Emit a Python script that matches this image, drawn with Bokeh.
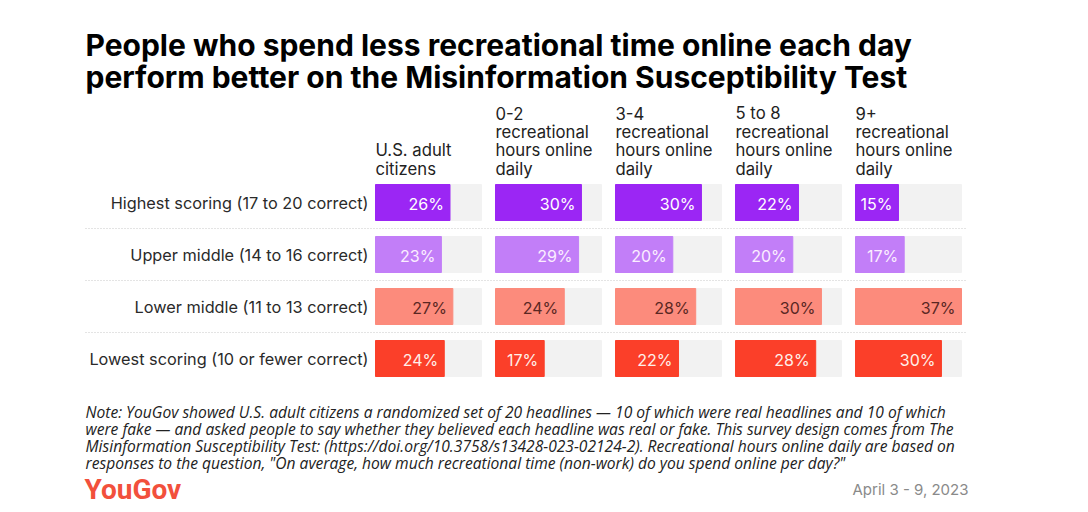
from bokeh.plotting import figure
from bokeh.models import Range1d, ColumnDataSource
from bokeh.embed import file_html
from bokeh.resources import INLINE
from bokeh.core.properties import value

# ---- data ----
rows = ["Highest scoring (17 to 20 correct)",
        "Upper middle (14 to 16 correct)",
        "Lower middle (11 to 13 correct)",
        "Lowest scoring (10 or fewer correct)"]
columns = ["U.S. adult\ncitizens",
           "0-2\nrecreational\nhours online\ndaily",
           "3-4\nrecreational\nhours online\ndaily",
           "5 to 8\nrecreational\nhours online\ndaily",
           "9+\nrecreational\nhours online\ndaily"]
highest = [26, 30, 30, 22, 15]
upper_middle = [23, 29, 20, 20, 17]
lower_middle = [27, 24, 28, 30, 37]
lowest = [24, 17, 22, 28, 30]
series = [highest, upper_middle, lower_middle, lowest]

title = ["People who spend less recreational time online each day",
         "perform better on the Misinformation Susceptibility Test"]
note = ["Note: YouGov showed U.S. adult citizens a randomized set of 20 headlines \u2014 10 of which were real headlines and 10 of which",
        "were fake \u2014 and asked people to say whether they believed each headline was real or fake. This survey design comes from The",
        "Misinformation Susceptibility Test: (https://doi.org/10.3758/s13428-023-02124-2). Recreational hours online daily are based on",
        "responses to the question, \"On average, how much recreational time (non-work) do you spend online per day?\""]
brand = "YouGov"
date_text = "April 3 - 9, 2023"

# ---- styles ----
bar_colors = ["#9b26f4", "#c27ef8", "#fc8b7c", "#fb3f29"]
label_colors = ["#ffffff", "#fbeeff", "#5a2723", "#fff0ea"]
bg_color = "#f2f2f2"
FONT = "Inter"

W, H = 1088, 512
p = figure(width=W, height=H, output_backend="svg", toolbar_location=None,
           x_range=Range1d(0, W), y_range=Range1d(H, 0),
           min_border=0)
p.axis.visible = False
p.grid.visible = False
p.outline_line_color = None
p.background_fill_color = "white"

# layout
panel_x0 = 375.0
panel_step = 120.0
panel_w = 106.0
max_val = 37.0
px_per = panel_w / max_val
row_y0 = 202.0
row_step = 52.0
bar_h = 36.0

bg = dict(left=[], right=[], y=[])
bars = dict(left=[], right=[], y=[], color=[])
labs = dict(x=[], y=[], text=[], color=[])
for i, s in enumerate(series):
    y = row_y0 + i * row_step
    for j, v in enumerate(s):
        x0 = panel_x0 + j * panel_step
        bg["left"].append(x0); bg["right"].append(x0 + panel_w); bg["y"].append(y)
        bars["left"].append(x0); bars["right"].append(x0 + v * px_per)
        bars["y"].append(y); bars["color"].append(bar_colors[i])
        labs["x"].append(x0 + v * px_per - 6); labs["y"].append(y + 1)
        labs["text"].append(f"{v}%"); labs["color"].append(label_colors[i])

p.hbar(left="left", right="right", y="y", height=bar_h, color=bg_color,
       source=ColumnDataSource(bg))
p.hbar(left="left", right="right", y="y", height=bar_h, color="color",
       source=ColumnDataSource(bars))
p.text(x="x", y="y", text="text", text_color="color", source=ColumnDataSource(labs),
       text_font=value(FONT), text_font_size="16px", text_align="right",
       text_baseline="middle")

# separators
for k in range(len(rows) - 1):
    ys = row_y0 + k * row_step + row_step / 2
    p.line(x=[85, 967], y=[ys, ys], line_color="#c8c8c8", line_width=1,
           line_dash="1 2")

# row labels
p.text(x=[368] * len(rows), y=[row_y0 + i * row_step for i in range(len(rows))],
       text=rows, text_font=value(FONT), text_font_size="16.3px",
       text_color="#2a2a2a", text_align="right", text_baseline="middle")

# column headers (bottom aligned)
hx, hy, ht = [], [], []
for j, c in enumerate(columns):
    lines = c.split("\n")
    n = len(lines)
    for k, ln in enumerate(lines):
        hx.append(panel_x0 + j * panel_step)
        hy.append(168 - (n - 1 - k) * 18.5)
        ht.append(ln)
p.text(x=hx, y=hy, text=ht, text_font=value(FONT), text_font_size="16.7px",
       text_color="#222222", text_align="left", text_baseline="middle")

# title
p.text(x=[85, 85], y=[44, 76], text=title, text_font=value(FONT),
       text_font_size="30px", text_font_style="bold", text_color="#000000",
       text_align="left", text_baseline="middle")

# note
p.text(x=[85] * len(note), y=[411 + 17 * k for k in range(len(note))], text=note,
       text_font=value("Open Sans"), text_font_size="15.6px", text_font_style="italic",
       text_color="#222222", text_align="left", text_baseline="middle")

# footer
p.text(x=[84], y=[489], text=[brand], text_font=value("Roboto"),
       text_font_size="28px", text_font_style="bold", text_color="#f2503c",
       text_align="left", text_baseline="middle")
p.text(x=[968], y=[489], text=[date_text], text_font=value(FONT),
       text_font_size="15px", text_color="#8a8a8a", text_align="right",
       text_baseline="middle")

open("out.html", "w").write(file_html(p, INLINE))
